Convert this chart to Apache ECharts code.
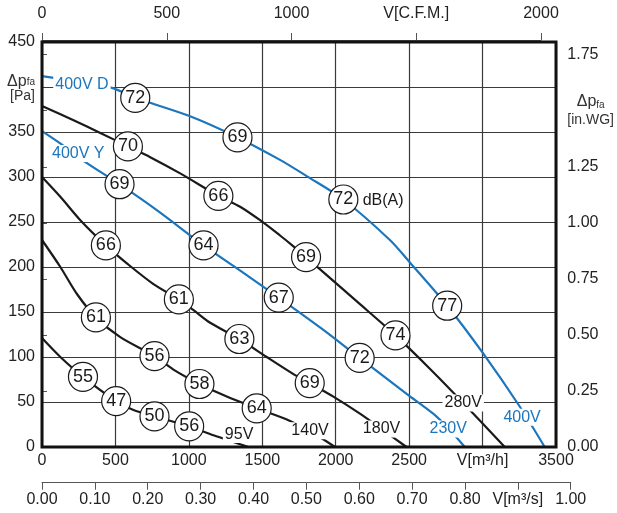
<!DOCTYPE html>
<html><head><meta charset="utf-8">
<script src="https://cdn.jsdelivr.net/npm/echarts@6/dist/echarts.min.js"></script>
<style>html,body{margin:0;padding:0;background:#fff}#c{width:617px;height:513px}</style>
</head><body><div id="c"></div><script>
// ---- data (x: V [m3/h], y: dp_fa [Pa]) ----
const curve400V = [[0,412],[250,406],[476,399],[635,388],[1000,368],[1331,344],[1621,319],[1802,301],[2052,275],[2369,230],[2505,205],[2759,157],[3004,104],[3253,45],[3423,0]];
const curve280V = [[0,379],[215,363],[397,349],[585,334],[737,322],[941,304],[1201,279],[1349,267],[1485,252],[1621,235],[1712,223],[1798,211],[2142,162],[2407,124],[2641,87],[2868,49],[3151,0]];
const curve230V = [[0,351],[136,336],[283,318],[528,292],[800,261],[1100,224],[1350,196],[1612,166],[1900,132],[2163,99],[2483,59],[2664,37],[2777,19],[2879,0]];
const curve180V = [[0,300],[125,278],[261,252],[435,224],[578,204],[759,181],[932,164],[1032,152],[1145,138],[1344,120],[1530,100],[1712,81],[1823,71],[1984,56],[2165,37],[2346,16],[2482,0]];
const curve140V = [[0,230],[125,200],[238,170],[367,144],[533,122],[766,101],[895,86],[1072,70],[1258,56],[1462,43],[1689,29],[1870,13],[1995,0]];
const curve95V  = [[0,121],[125,100],[279,78],[505,51],[623,41],[766,34],[1002,23],[1168,13],[1406,0]];

const blueCurves  = [curve400V, curve230V];
const blackCurves = [curve280V, curve180V, curve140V, curve95V];

// noise levels dB(A) on the curves: [x, y, dB]
const noise400V = [[635,388,72],[1331,344,69],[2052,275,72],[2759,157,77]];
const noise280V = [[585,334,70],[1201,279,66],[1798,211,69],[2407,124,74]];
const noise230V = [[528,292,69],[1100,224,64],[1612,166,67],[2163,99,72]];
const noise180V = [[435,224,66],[932,164,61],[1344,120,63],[1823,71,69]];
const noise140V = [[367,144,61],[766,101,56],[1072,70,58],[1462,43,64]];
const noise95V  = [[279,78,55],[505,51,47],[766,34,50],[1002,23,56]];

// curve labels (anchor in data coordinates)
const blackLabelText = ['95V','140V','180V','280V','dB(A)'];
const blackLabelPos  = [[1342,14],[1825,18],[2312,20],[2868,49],[2323,274]];
const blueLabelText  = ['230V','400V','400V D','400V Y'];
const blueLabelPos   = [[2766,20],[3269,33],[272,403],[247,326]];

// axis tick labels
const flowTicks = [0,500,1000,1500,2000,2500,3000,3500];
const cfmTicks  = [0,500,1000,1500,2000];
const pressureTicks = [0,50,100,150,200,250,300,350,400,450];
const inwgTicks = [0,0.25,0.5,0.75,1.0,1.25,1.5,1.75];
const m3sTicks  = [0,0.1,0.2,0.3,0.4,0.5,0.6,0.7,0.8,0.9,1.0];

// ---- chart ----
const BLUE = '#1b76bd', BLACK = '#1a1a1a', FONT = 'Liberation Sans, Arial, sans-serif';
const lbl = {color:'#222', fontSize:16, fontFamily:FONT};
const secLine = {show:true, lineStyle:{color:'#555', width:1}};
const secTick = {show:true, length:7, lineStyle:{color:'#555', width:1}};

const series = [];
blueCurves.forEach(c => series.push({type:'line', data:c, smooth:0.3, symbol:'none', z:2, lineStyle:{color:BLUE, width:2.2}, xAxisIndex:0, yAxisIndex:0, silent:true}));
blackCurves.forEach(c => series.push({type:'line', data:c, smooth:0.3, symbol:'none', z:2, lineStyle:{color:BLACK, width:2.2}, xAxisIndex:0, yAxisIndex:0, silent:true}));

const labelSeries = (texts, pos, color) => ({
  type:'scatter', xAxisIndex:0, yAxisIndex:0, z:3, symbolSize:0, silent:true,
  itemStyle:{opacity:1},
  data: texts.map((t,i)=>({value:pos[i], name:t})),
  label:{show:true, position:'inside', formatter:'{b}', color:color, fontSize:16, fontFamily:FONT,
         backgroundColor:'#fff', padding:[1,2,0,2]}
});
series.push(labelSeries(blackLabelText, blackLabelPos, '#1a1a1a'));
series.push(labelSeries(blueLabelText, blueLabelPos, BLUE));

const allNoise = [].concat(noise400V, noise280V, noise230V, noise180V, noise140V, noise95V);
series.push({
  type:'scatter', xAxisIndex:0, yAxisIndex:0, z:4, symbol:'circle', symbolSize:29, silent:true,
  data: allNoise,
  itemStyle:{color:'#fff', borderColor:'#1a1a1a', borderWidth:1.2, opacity:1},
  label:{show:true, position:'inside', formatter:p=>p.value[2], color:'#1a1a1a', fontSize:18, fontFamily:FONT}
});

const opt = {
  animation:false,
  backgroundColor:'#fff',
  textStyle:{fontFamily:FONT},
  grid:[
    {left:42, top:42, width:514, height:405, show:true, borderColor:'#111', borderWidth:3, backgroundColor:'transparent', z:5},
    {left:42, top:30, width:499.0, height:10},
    {left:42, top:54.7, width:529, height:392.3},
    {left:42, top:472.7, width:528.7, height:10}
  ],
  xAxis:[
    {gridIndex:0, type:'value', min:flowTicks[0], max:flowTicks[flowTicks.length-1], interval:500, position:'bottom',
     axisLine:{show:false}, axisTick:{show:false},
     splitLine:{show:true, lineStyle:{color:'#3a3a3a', width:1.2}},
     axisLabel:Object.assign({}, lbl, {margin:6, formatter:v=> v===3000 ? 'V[m³/h]' : String(v)})},
    {gridIndex:1, type:'value', min:cfmTicks[0], max:cfmTicks[cfmTicks.length-1], interval:500, position:'top',
     axisLine:secLine, axisTick:secTick, splitLine:{show:false},
     axisLabel:Object.assign({}, lbl, {margin:8, formatter:v=> v===1500 ? 'V[C.F.M.]' : String(v)})},
    {gridIndex:2, type:'value', show:false, min:0, max:1},
    {gridIndex:3, type:'value', min:m3sTicks[0], max:m3sTicks[m3sTicks.length-1], interval:0.1, position:'bottom',
     axisLine:secLine, axisTick:secTick, splitLine:{show:false},
     axisLabel:Object.assign({}, lbl, {margin:9, formatter:v=> Math.abs(v-0.9)<1e-6 ? 'V[m³/s]' : v.toFixed(2)})}
  ],
  yAxis:[
    {gridIndex:0, type:'value', min:pressureTicks[0], max:pressureTicks[pressureTicks.length-1], interval:50,
     axisLine:{show:false}, axisTick:{show:false},
     splitLine:{show:true, lineStyle:{color:'#3a3a3a', width:1.2}},
     axisLabel:Object.assign({}, lbl, {margin:7,
       formatter:v=> v===400 ? '{a|Δp}{b|fa}\n{c|[Pa]}' : String(v),
       rich:{a:{fontSize:16, color:'#333', lineHeight:18, fontFamily:FONT, padding:[8,0,0,0]},
             b:{fontSize:10, color:'#333', lineHeight:18, verticalAlign:'bottom', fontFamily:FONT, padding:[14,0,0,0]},
             c:{fontSize:14, color:'#333', lineHeight:18, fontFamily:FONT}}})},
    {gridIndex:1, type:'value', show:false, min:0, max:1},
    {gridIndex:2, type:'value', min:inwgTicks[0], max:inwgTicks[inwgTicks.length-1], interval:0.25, position:'right',
     axisLine:secLine, axisTick:{show:true, length:5, lineStyle:{color:'#555', width:1}}, splitLine:{show:false},
     axisLabel:Object.assign({}, lbl, {margin:6,
       formatter:v=> Math.abs(v-1.5)<1e-6 ? '{a|Δp}{b|fa}\n{c|[in.WG]}' : v.toFixed(2),
       rich:{a:{fontSize:16, color:'#333', lineHeight:18, align:'center', fontFamily:FONT},
             b:{fontSize:10, color:'#333', lineHeight:18, align:'center', verticalAlign:'bottom', fontFamily:FONT, padding:[6,0,0,0]},
             c:{fontSize:14, color:'#333', lineHeight:18, align:'center', fontFamily:FONT}}})},
    {gridIndex:3, type:'value', show:false, min:0, max:1}
  ],
  series: series
};
const chart = echarts.init(document.getElementById('c'), null, {renderer:'canvas'});
chart.setOption(opt);
</script></body></html>
